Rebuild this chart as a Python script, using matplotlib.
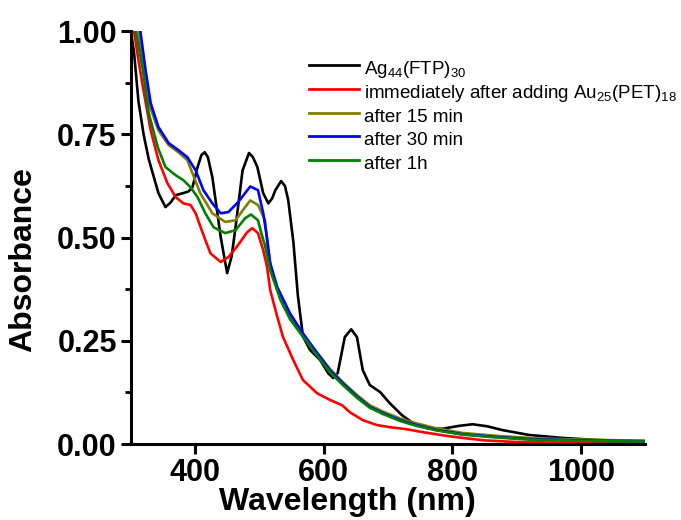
import matplotlib
matplotlib.use("Agg")
import matplotlib.pyplot as plt
from matplotlib.ticker import MultipleLocator

# Ag44(FTP)30
wl_black = [300, 305, 312, 320, 328, 343, 354, 362, 370, 382, 390, 396, 404, 410, 415, 420, 427, 440, 450, 457, 463, 474, 484, 490, 497, 506, 514, 520, 525, 534, 540, 545, 553, 560, 568, 579, 595, 607, 615, 622, 633, 643, 652, 661, 672, 688, 703, 722, 739, 760, 785, 810, 832, 855, 878, 920, 971, 1024, 1060, 1100]
ab_black = [1.00, 0.95, 0.83, 0.75, 0.69, 0.608, 0.574, 0.585, 0.603, 0.608, 0.612, 0.622, 0.671, 0.700, 0.707, 0.695, 0.646, 0.501, 0.414, 0.455, 0.525, 0.663, 0.705, 0.695, 0.671, 0.608, 0.583, 0.595, 0.615, 0.637, 0.625, 0.591, 0.49, 0.36, 0.26, 0.228, 0.203, 0.172, 0.160, 0.172, 0.259, 0.278, 0.259, 0.179, 0.143, 0.126, 0.099, 0.070, 0.051, 0.039, 0.037, 0.044, 0.048, 0.043, 0.034, 0.022, 0.015, 0.010, 0.008, 0.007]

# immediately after adding Au25(PET)18
wl_red = [305, 312, 319, 331, 343, 357, 370, 382, 393, 401, 412, 424, 440, 452, 467, 481, 489, 498, 506, 512, 517, 528, 537, 553, 568, 590, 610, 629, 641, 661, 683, 703, 729, 754, 791, 816, 850, 900, 1000, 1100]
ab_red = [1.00, 0.93, 0.864, 0.760, 0.688, 0.632, 0.598, 0.583, 0.579, 0.559, 0.511, 0.462, 0.441, 0.453, 0.482, 0.513, 0.523, 0.511, 0.47, 0.43, 0.373, 0.308, 0.259, 0.203, 0.155, 0.123, 0.107, 0.094, 0.077, 0.058, 0.046, 0.041, 0.036, 0.029, 0.020, 0.015, 0.009, 0.005, 0.003, 0.002]

# after 15 min
wl_olive = [312, 320, 328, 343, 359, 374, 388, 396, 408, 427, 447, 463, 478, 486, 498, 509, 514, 522, 533, 548, 568, 590, 610, 630, 652, 672, 692, 719, 745, 776, 816, 869, 920, 971, 1030, 1100]
ab_olive = [1.00, 0.90, 0.826, 0.760, 0.724, 0.707, 0.688, 0.656, 0.608, 0.559, 0.538, 0.542, 0.574, 0.590, 0.579, 0.542, 0.46, 0.40, 0.36, 0.31, 0.265, 0.222, 0.182, 0.150, 0.119, 0.094, 0.079, 0.062, 0.050, 0.038, 0.027, 0.020, 0.015, 0.012, 0.010, 0.008]

# after 30 min
wl_blue = [315, 323, 331, 343, 359, 374, 388, 401, 413, 427, 440, 452, 467, 486, 498, 506, 512, 517, 528, 548, 568, 590, 610, 630, 652, 672, 692, 719, 745, 776, 816, 869, 920, 971, 1030, 1100]
ab_blue = [1.00, 0.906, 0.826, 0.768, 0.729, 0.712, 0.695, 0.663, 0.615, 0.583, 0.559, 0.562, 0.586, 0.624, 0.615, 0.560, 0.50, 0.438, 0.38, 0.316, 0.268, 0.220, 0.179, 0.147, 0.115, 0.090, 0.075, 0.058, 0.046, 0.034, 0.024, 0.017, 0.012, 0.010, 0.008, 0.007]

# after 1h
wl_green = [308, 319, 328, 342, 354, 370, 382, 393, 404, 416, 429, 447, 463, 478, 487, 498, 504, 509, 517, 533, 548, 568, 590, 610, 630, 652, 672, 692, 719, 745, 776, 816, 869, 920, 971, 1030, 1100]
ab_green = [1.00, 0.906, 0.801, 0.719, 0.671, 0.651, 0.639, 0.622, 0.598, 0.559, 0.525, 0.511, 0.518, 0.547, 0.556, 0.542, 0.506, 0.48, 0.421, 0.349, 0.302, 0.260, 0.214, 0.174, 0.143, 0.112, 0.088, 0.073, 0.056, 0.044, 0.033, 0.023, 0.016, 0.011, 0.009, 0.007, 0.006]

labels = ['Ag$_{44}$(FTP)$_{30}$',
          'immediately after adding Au$_{25}$(PET)$_{18}$',
          'after 15 min', 'after 30 min', 'after 1h']
colors = ['black', '#ff0000', '#808000', '#0000ff', '#008000']
x_ticks = [400, 600, 800, 1000]
y_ticks = [0.00, 0.25, 0.50, 0.75, 1.00]

FONT = 'Liberation Sans'
plt.rcParams['font.family'] = [FONT, 'DejaVu Sans']
plt.rcParams['mathtext.fontset'] = 'custom'
plt.rcParams['mathtext.rm'] = FONT
plt.rcParams['mathtext.it'] = FONT

fig = plt.figure(figsize=(6.81, 5.20), dpi=100)
ax = fig.add_axes([0.192, 0.146, 0.755, 0.794])

series = [(wl_black, ab_black), (wl_red, ab_red), (wl_olive, ab_olive),
          (wl_blue, ab_blue), (wl_green, ab_green)]
for (x, y), c, lab in zip(series, colors, labels):
    ax.plot(x, y, color=c, lw=1.9, label=lab, solid_joinstyle='round')

ax.set_xlim(300, 1100)
ax.set_ylim(0, 1.0)
ax.set_xticks(x_ticks)
ax.set_yticks(y_ticks)
ax.set_yticklabels([f'{v:.2f}' for v in y_ticks])
ax.yaxis.set_minor_locator(MultipleLocator(0.125))
for s in ['top', 'right']:
    ax.spines[s].set_visible(False)
for s in ['left', 'bottom']:
    ax.spines[s].set_linewidth(2.2)
ax.tick_params(axis='both', which='major', direction='out', length=7, width=2.2, pad=3)
ax.tick_params(axis='y', which='minor', direction='out', length=4, width=2.0)
for t in ax.get_xticklabels() + ax.get_yticklabels():
    t.set_fontweight('bold')
    t.set_fontsize(22)
ax.set_xlabel('Wavelength (nm)', fontweight='bold', fontsize=23)
ax.xaxis.set_label_coords(0.422, -0.105)
ax.set_ylabel('Absorbance', fontweight='bold', fontsize=23)
ax.yaxis.set_label_coords(-0.18, 0.448)

leg = ax.legend(loc='upper left', bbox_to_anchor=(0.346, 0.94), frameon=False,
                prop={'size': 13.5},
                handlelength=2.7, handleheight=1.55, handletextpad=0.25,
                labelspacing=0.0, borderaxespad=0, borderpad=0)
for h in leg.get_lines():
    h.set_linewidth(2.0)

fig.savefig('out.png', dpi=100)
